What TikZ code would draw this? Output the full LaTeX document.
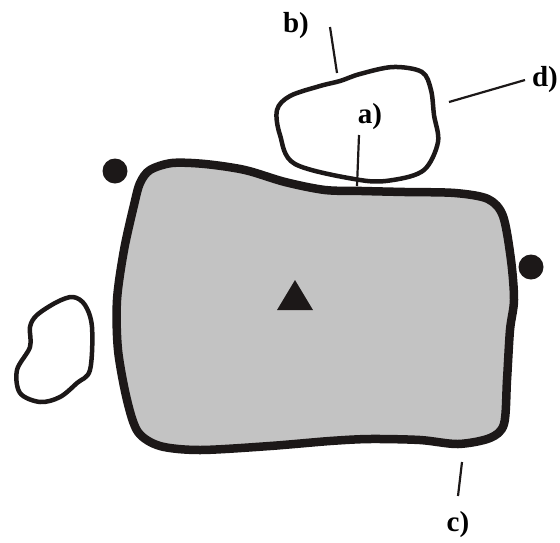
\documentclass[tikz,border=0pt]{standalone}
\usepackage{fontspec}
\setmainfont{Liberation Serif}
\begin{document}
\begin{tikzpicture}[x=1pt,y=-1pt,
 lbl/.style={font=\fontsize{29}{32}\selectfont\bfseries,inner sep=0pt},
 lead/.style={line width=2.2pt,color=ink},
 outline/.style={line width=4.5pt,color=ink,line join=round}]
\definecolor{ink}{RGB}{28,24,24}
\definecolor{area}{RGB}{195,195,195}
\useasboundingbox (0,0) rectangle (560,542);
% main region
\draw[line width=8.5pt,color=ink,fill=area,line join=round] plot[smooth cycle,tension=0.5] coordinates {
 (150,170) (172,163) (205,164) (245,170) (285,182) (325,190) (362,191) (405,192)
 (455,193) (488,199) (503,216) (511,260) (514,300) (510,330) (507,380) (504,424)
 (490,438) (458,444) (420,440) (370,439) (330,441) (270,446) (200,450) (160,446)
 (138,432) (127,400) (118,350) (117,300) (124,250) (134,205) (140,183)};
% upper small region
\draw[outline] plot[smooth cycle,tension=0.55] coordinates {
 (295,164) (280,135) (277,110) (290,96) (320,86) (340,81) (360,74) (393,67)
 (422,72) (431,90) (434,115) (438,142) (424,170) (393,180) (360,180)};
% left small region
\draw[outline] plot[smooth cycle,tension=0.55] coordinates {
 (73,297) (85,305) (92,327) (90,370) (77,383) (60,397) (40,402) (20,393)
 (17,370) (30,347) (30,327) (37,315) (57,302)};
% markers
\node[circle,fill=ink,minimum size=25pt,inner sep=0pt] (dotL) at (115,171) {};
\node[circle,fill=ink,minimum size=25pt,inner sep=0pt] (dotR) at (531,267) {};
\fill[ink] (277,310) -- (295,280) -- (313,310) -- cycle;
% labels
\node[lbl] (la) at (370,117) {a)};
\node[lbl] (lb) at (296,26) {b)};
\node[lbl] (lc) at (458,525) {c)};
\node[lbl] (ld) at (545,80) {d)};
\coordinate (ea) at (357,186);
\coordinate (eb) at (337,73);
\coordinate (ec) at (458,496);
\coordinate (ed) at (449,102);
\draw[lead] (359,135) -- (ea);
\draw[lead] (330,27) -- (eb);
\draw[lead] (462,462) -- (ec);
\draw[lead] (525,80) -- (ed);
\end{tikzpicture}
\end{document}
